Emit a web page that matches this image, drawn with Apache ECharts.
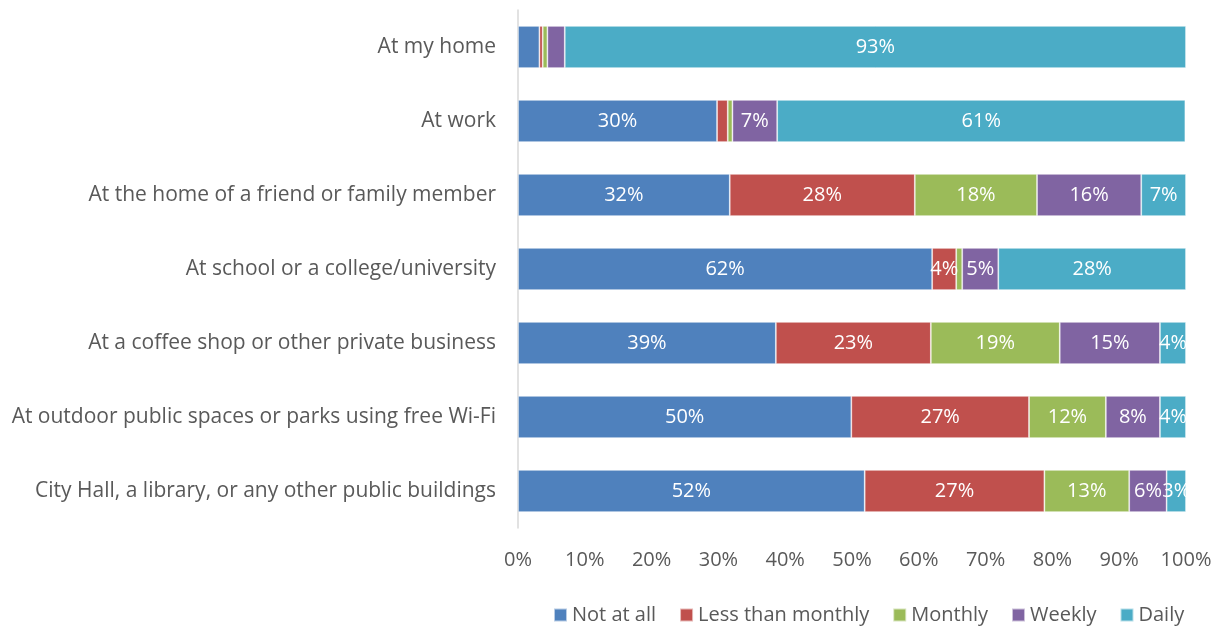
<!DOCTYPE html>
<html>
<head>
<meta charset="utf-8">
<script src="https://cdn.jsdelivr.net/npm/echarts@6/dist/echarts.min.js"></script>
<style>
  html, body { margin: 0; padding: 0; background: #fff; }
  #chart { width: 1220px; height: 627px; }
</style>
</head>
<body>
<div id="chart"></div>
<script>
const places = [
  'At my home',
  'At work',
  'At the home of a friend or family member',
  'At school or a college/university',
  'At a coffee shop or other private business',
  'At outdoor public spaces or parks using free Wi-Fi',
  'City Hall, a library, or any other public buildings'
];
const notAtAll = [3.2, 29.8, 31.7, 62.0, 38.6, 49.9, 51.9];
const lessThanMonthly = [0.5, 1.6, 27.7, 3.6, 23.2, 26.6, 26.9];
const monthly = [0.7, 0.7, 18.3, 0.9, 19.3, 11.5, 12.7];
const weekly = [2.6, 6.7, 15.6, 5.4, 15.0, 8.1, 5.6];
const daily = [93.0, 61.1, 6.7, 28.1, 3.9, 3.9, 2.9];
const xTicks = ['0%', '10%', '20%', '30%', '40%', '50%', '60%', '70%', '80%', '90%', '100%'];

// labels left off in the original chart: [series index, row index]
const hiddenLabels = [[0, 0], [3, 0]];

const seriesDefs = [
  { name: 'Not at all', data: notAtAll, color: '#4F81BD' },
  { name: 'Less than monthly', data: lessThanMonthly, color: '#C0504D' },
  { name: 'Monthly', data: monthly, color: '#9BBB59' },
  { name: 'Weekly', data: weekly, color: '#8064A2' },
  { name: 'Daily', data: daily, color: '#4BACC6' }
];

const font = '"Open Sans", Lato, sans-serif';

const chart = echarts.init(document.getElementById('chart'));
chart.setOption({
  animation: false,
  textStyle: { fontFamily: font },
  grid: { left: 518, right: 34, top: 10, bottom: 99 },
  legend: {
    top: 600,
    left: 548,
    itemWidth: 13,
    itemHeight: 13,
    itemGap: 23,
    itemTextGap: 6,
    icon: 'rect',
    textStyle: { color: '#595959', fontSize: 20, fontFamily: font },
    data: seriesDefs.map(s => s.name)
  },
  xAxis: {
    type: 'value',
    min: 0,
    max: 100,
    interval: 10,
    axisLine: { show: false },
    axisTick: { show: false },
    splitLine: { show: false },
    axisLabel: {
      color: '#595959',
      fontSize: 20,
      margin: 22,
      fontFamily: font,
      formatter: v => xTicks[Math.round(v / 10)]
    }
  },
  yAxis: {
    type: 'category',
    inverse: true,
    data: places,
    axisLine: { show: true, lineStyle: { color: '#d9d9d9', width: 1.5 } },
    axisTick: { show: false },
    axisLabel: { color: '#595959', fontSize: 21, margin: 22, fontFamily: font }
  },
  series: seriesDefs.map((s, si) => ({
    name: s.name,
    type: 'bar',
    stack: 'total',
    barCategoryGap: '43%',
    itemStyle: { color: s.color, borderColor: 'rgba(255,255,255,0.6)', borderWidth: 0.8 },
    label: {
      show: true,
      position: 'inside',
      color: '#fff',
      fontSize: 20,
      fontFamily: font,
      formatter: p => {
        if (p.value < 2.5) return '';
        if (hiddenLabels.some(h => h[0] === si && h[1] === p.dataIndex)) return '';
        return Math.round(p.value) + '%';
      }
    },
    data: s.data
  }))
});
</script>
</body>
</html>
